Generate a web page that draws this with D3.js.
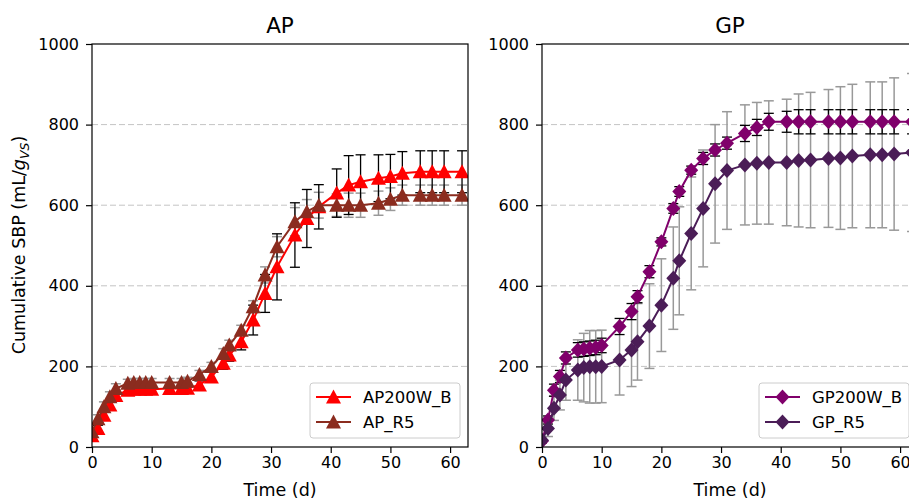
<!DOCTYPE html>
<html>
<head>
<meta charset="utf-8">
<script src="https://cdn.jsdelivr.net/npm/d3@7"></script>
<style>
  body { margin: 0; background: #fff; }
  svg { font-family: "DejaVu Sans", sans-serif; }
</style>
</head>
<body>
<div id="chart"></div>
<script>
// sampling days
var apDays = [0, 1, 2, 3, 4, 6, 7, 8, 9, 10, 13, 15, 16, 18, 20, 22, 23, 25, 27, 29, 31, 34, 36, 38, 41, 43, 45, 48, 50, 52, 55, 57, 59, 62];
var gpDays = [0, 1, 2, 3, 4, 6, 7, 8, 9, 10, 13, 15, 16, 18, 20, 22, 23, 25, 27, 29, 31, 34, 36, 38, 41, 43, 45, 48, 50, 52, 55, 57, 59, 62];

// AP panel
var ap200wB    = [28, 46, 79, 104, 128, 141, 143, 143, 143, 143, 145, 145, 146, 154, 174, 208, 228, 261, 315, 381, 447, 526, 567, 596, 630, 650, 658, 667, 671, 679, 683, 683, 683, 683];
var ap200wBErr = [5, 8, 8, 8, 8, 8, 8, 8, 8, 8, 8, 8, 8, 10, 12, 15, 15, 20, 37, 47, 82, 80, 72, 55, 60, 73, 67, 58, 55, 54, 52, 52, 52, 52];
var apR5       = [38, 70, 100, 125, 145, 158, 160, 160, 160, 160, 160, 160, 163, 180, 200, 232, 253, 290, 348, 427, 497, 559, 584, 600, 600, 600, 600, 605, 615, 625, 625, 625, 625, 625];
var apR5Err    = [5, 10, 12, 12, 12, 10, 10, 10, 10, 10, 10, 10, 10, 10, 10, 12, 12, 12, 15, 20, 25, 35, 30, 32, 28, 30, 30, 30, 28, 25, 25, 25, 25, 25];

// GP panel
var gp200wB    = [15, 67, 141, 175, 221, 241, 243, 245, 247, 252, 299, 336, 373, 435, 509, 592, 634, 687, 716, 737, 754, 778, 793, 807, 807, 807, 807, 807, 807, 807, 807, 807, 807, 807];
var gp200wBErr = [5, 10, 15, 15, 15, 18, 18, 18, 18, 18, 20, 20, 15, 15, 10, 12, 12, 10, 15, 15, 15, 20, 20, 21, 26, 30, 30, 30, 30, 30, 30, 30, 30, 30];
var gpR5       = [17, 46, 96, 129, 166, 191, 197, 199, 199, 200, 216, 241, 261, 300, 352, 419, 462, 530, 592, 653, 686, 700, 704, 706, 706, 711, 712, 716, 717, 722, 725, 725, 727, 731];
var gpR5Err    = [5, 20, 30, 37, 50, 75, 85, 90, 90, 90, 87, 91, 95, 105, 115, 127, 134, 140, 145, 147, 146, 149, 151, 153, 157, 165, 168, 171, 177, 178, 181, 181, 189, 196];

var xTicks = [0, 10, 20, 30, 40, 50, 60];
var yTicks = [0, 200, 400, 600, 800, 1000];
var gridTicks = [200, 400, 600, 800];

var svgWidth = 909, svgHeight = 500;
var svg = d3.select("#chart").append("svg")
  .attr("width", svgWidth)
  .attr("height", svgHeight);

var plotTop = 44, plotBottom = 447, panelW = 376;

var triangle = "M0,-7.5 L7.5,6.5 L-7.5,6.5 Z";
var diamond = "M0,-7.5 L7,0 L0,7.5 L-7,0 Z";

function drawPanel(left, title, days, series, legendX) {
  var x = d3.scaleLinear().domain([0, 63]).range([left, left + panelW]);
  var y = d3.scaleLinear().domain([0, 1000]).range([plotBottom, plotTop]);

  var clipId = "clip" + title;
  svg.append("clipPath").attr("id", clipId)
    .append("rect")
    .attr("x", left).attr("y", plotTop)
    .attr("width", panelW).attr("height", plotBottom - plotTop);

  // grid
  svg.append("g").selectAll("line")
    .data(gridTicks).enter().append("line")
    .attr("x1", left).attr("x2", left + panelW)
    .attr("y1", d => y(d)).attr("y2", d => y(d))
    .attr("stroke", "#c4c4c4")
    .attr("stroke-width", 1)
    .attr("stroke-dasharray", "6,3");

  var plot = svg.append("g").attr("clip-path", "url(#" + clipId + ")");

  // error bars first: gray ones under black ones
  var order = series.slice().sort((a, b) => (a.errColor === "#000" ? 1 : 0) - (b.errColor === "#000" ? 1 : 0));
  order.forEach(function(s) {
    var g = plot.append("g")
      .attr("stroke", s.errColor)
      .attr("stroke-width", s.errColor === "#000" ? 1.3 : 1.5);
    days.forEach(function(d, i) {
      var cx = x(d);
      var y0 = y(s.values[i] - s.err[i]), y1 = y(s.values[i] + s.err[i]);
      g.append("line").attr("x1", cx).attr("x2", cx).attr("y1", y0).attr("y2", y1);
      g.append("line").attr("x1", cx - 5).attr("x2", cx + 5).attr("y1", y0).attr("y2", y0);
      g.append("line").attr("x1", cx - 5).attr("x2", cx + 5).attr("y1", y1).attr("y2", y1);
    });
  });

  series.forEach(function(s) {
    var line = d3.line().x((d, i) => x(days[i])).y(d => y(d));
    plot.append("path")
      .attr("d", line(s.values))
      .attr("fill", "none")
      .attr("stroke", s.color)
      .attr("stroke-width", 2);
    plot.append("g").selectAll("path")
      .data(s.values).enter().append("path")
      .attr("d", s.marker)
      .attr("transform", (d, i) => `translate(${x(days[i])},${y(d)})`)
      .attr("fill", s.color);
  });

  // frame
  svg.append("rect")
    .attr("x", left).attr("y", plotTop)
    .attr("width", panelW).attr("height", plotBottom - plotTop)
    .attr("fill", "none").attr("stroke", "#000").attr("stroke-width", 1.2);

  var xAxis = d3.axisBottom(x).tickValues(xTicks).tickSize(6).tickPadding(4);
  var gx = svg.append("g").attr("transform", `translate(0,${plotBottom})`).call(xAxis);
  var yAxis = d3.axisLeft(y).tickValues(yTicks).tickSize(6).tickPadding(7).tickFormat(d3.format("d"));
  var gy = svg.append("g").attr("transform", `translate(${left},0)`).call(yAxis);
  [gx, gy].forEach(function(g) {
    g.select(".domain").remove();
    g.selectAll("line").attr("stroke", "#000").attr("stroke-width", 1.2);
    g.selectAll("text").attr("font-size", 16).attr("fill", "#000")
      .attr("font-family", "DejaVu Sans");
  });

  svg.append("text")
    .attr("x", left + panelW / 2).attr("y", 33)
    .attr("text-anchor", "middle")
    .attr("font-size", 21.5)
    .text(title);

  svg.append("text")
    .attr("x", left + panelW / 2).attr("y", 496)
    .attr("text-anchor", "middle")
    .attr("font-size", 17.5)
    .text("Time (d)");

  // legend
  var lg = svg.append("g").attr("transform", `translate(${legendX},383)`);
  lg.append("rect")
    .attr("width", 150).attr("height", 55)
    .attr("rx", 3)
    .attr("fill", "#fff").attr("fill-opacity", 0.8)
    .attr("stroke", "#cccccc").attr("stroke-width", 1);
  series.forEach(function(s, i) {
    var ry = 14 + i * 25;
    lg.append("line")
      .attr("x1", 6).attr("x2", 41).attr("y1", ry).attr("y2", ry)
      .attr("stroke", s.color).attr("stroke-width", 2);
    lg.append("path")
      .attr("d", s.marker)
      .attr("transform", `translate(23.5,${ry})`)
      .attr("fill", s.color);
    lg.append("text")
      .attr("x", 53).attr("y", ry + 6)
      .attr("font-size", 16.5)
      .text(s.name);
  });
}

drawPanel(92, "AP", apDays, [
  { name: "AP200W_B", values: ap200wB, err: ap200wBErr, color: "#ff0000", errColor: "#000", marker: triangle },
  { name: "AP_R5", values: apR5, err: apR5Err, color: "#8b2c1f", errColor: "#999", marker: triangle }
], 310);

drawPanel(542, "GP", gpDays, [
  { name: "GP200W_B", values: gp200wB, err: gp200wBErr, color: "#80006b", errColor: "#000", marker: diamond },
  { name: "GP_R5", values: gpR5, err: gpR5Err, color: "#4b1d57", errColor: "#999", marker: diamond }
], 759);

// y label with italic subscript
var ylab = svg.append("text")
  .attr("transform", "translate(25,245) rotate(-90)")
  .attr("text-anchor", "middle")
  .attr("font-size", 17.5);
ylab.append("tspan").text("Cumulative SBP (mL/");
ylab.append("tspan").attr("font-style", "italic").text("g");
ylab.append("tspan").attr("font-style", "italic").attr("font-size", 12.5).attr("dy", 4).text("VS");
ylab.append("tspan").attr("dy", -4).text(")");
</script>
</body>
</html>
